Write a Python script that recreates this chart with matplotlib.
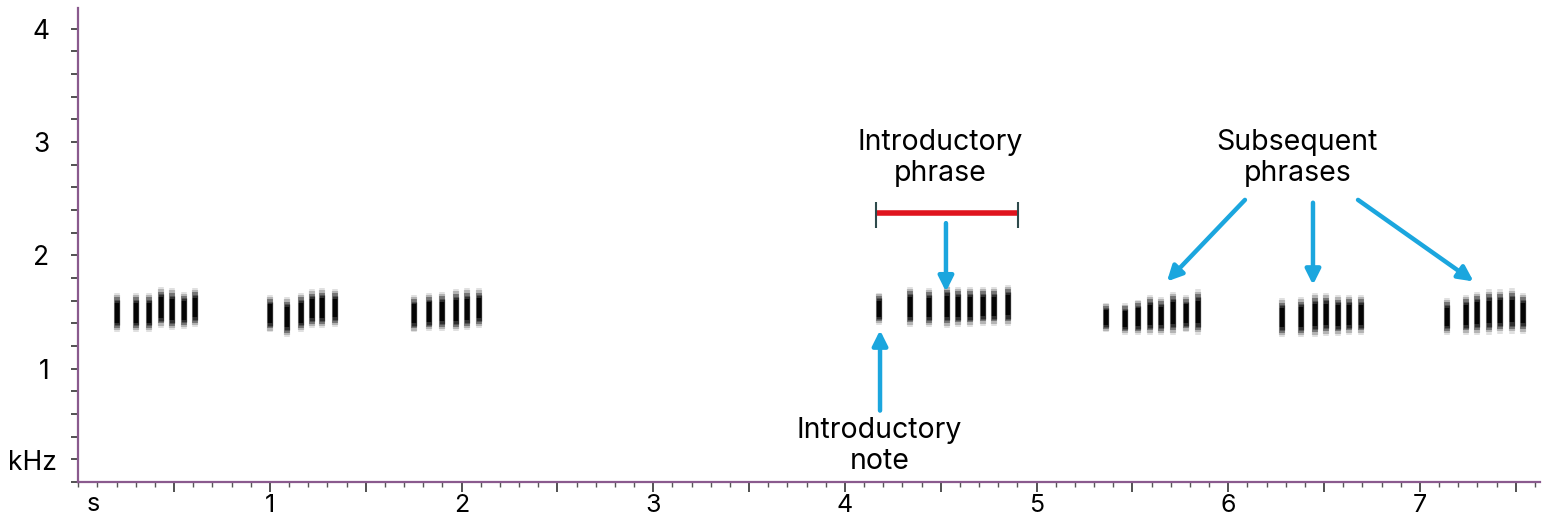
import matplotlib
matplotlib.use("Agg")
import matplotlib.pyplot as plt
from matplotlib.ticker import MultipleLocator

# syllable onsets (s) and frequency extent (kHz), one list per phrase
phrase_times = [
    [0.20, 0.30, 0.37, 0.43, 0.49, 0.55, 0.61],
    [1.00, 1.09, 1.16, 1.22, 1.27, 1.34],
    [1.75, 1.83, 1.90, 1.97, 2.03, 2.09],
    [4.18],
    [4.34, 4.44, 4.53, 4.59, 4.65, 4.72, 4.78, 4.85],
    [5.36, 5.46, 5.53, 5.59, 5.65, 5.71, 5.78, 5.84],
    [6.28, 6.38, 6.45, 6.51, 6.57, 6.63, 6.69],
    [7.14, 7.24, 7.30, 7.36, 7.42, 7.48, 7.54],
]
phrase_tops = [
    [1.67, 1.67, 1.67, 1.72, 1.71, 1.68, 1.71],
    [1.65, 1.63, 1.67, 1.70, 1.71, 1.70],
    [1.65, 1.67, 1.68, 1.70, 1.71, 1.71],
    [1.67],
    [1.72, 1.71, 1.74, 1.72, 1.72, 1.72, 1.72, 1.74],
    [1.58, 1.58, 1.61, 1.65, 1.63, 1.68, 1.65, 1.70],
    [1.62, 1.63, 1.67, 1.67, 1.65, 1.65, 1.65],
    [1.62, 1.65, 1.68, 1.70, 1.70, 1.71, 1.67],
]
phrase_bottoms = [
    [1.32, 1.32, 1.32, 1.36, 1.34, 1.35, 1.37],
    [1.32, 1.28, 1.32, 1.36, 1.36, 1.37],
    [1.32, 1.33, 1.33, 1.33, 1.34, 1.36],
    [1.39],
    [1.37, 1.37, 1.36, 1.37, 1.37, 1.38, 1.38, 1.38],
    [1.32, 1.30, 1.30, 1.30, 1.30, 1.30, 1.32, 1.30],
    [1.28, 1.28, 1.28, 1.29, 1.29, 1.30, 1.30],
    [1.30, 1.30, 1.30, 1.30, 1.31, 1.31, 1.31],
]

x_ticks = [0.5, 1, 1.5, 2, 2.5, 3, 3.5, 4, 4.5, 5, 5.5, 6, 6.5, 7, 7.5]
x_labels = ["", "1", "", "2", "", "3", "", "4", "", "5", "", "6", "", "7", ""]
y_ticks = [1, 2, 3, 4]
y_labels = ["1", "2", "3", "4"]

plt.rcParams['font.family'] = ['Inter', 'DejaVu Sans']

fig = plt.figure(figsize=(15.45, 5.21), dpi=100)
ax = fig.add_axes([0.0507, 0.0749, 0.946, 0.91])

# syllables drawn as soft, tapered vertical strokes (layered for a blurred look)
layers = [(1.0, 4.0, 0.12), (0.9, 4.5, 0.2), (0.78, 4.2, 0.35), (0.65, 3.8, 0.6), (0.5, 3.2, 0.9)]
for times, tops, bots in zip(phrase_times, phrase_tops, phrase_bottoms):
    for t, hi, lo in zip(times, tops, bots):
        mid = (hi + lo) / 2
        half = (hi - lo) / 2
        for frac, w, a in layers:
            ax.vlines(t, mid - frac * half, mid + frac * half, color="black", lw=w, alpha=a)

blue = "#1ba6de"
arrow = dict(arrowstyle="-|>,head_length=0.9,head_width=0.45", color=blue, lw=3.2, shrinkA=0, shrinkB=0)

# introductory phrase bar
ax.plot([4.162, 4.903], [2.375, 2.375], color="#e0141e", lw=4, solid_capstyle="butt", zorder=3)
ax.vlines([4.162, 4.903], 2.245, 2.47, color="#2e4a4c", lw=1.5, zorder=4)
ax.annotate("", xy=(4.527, 1.68), xytext=(4.527, 2.285), arrowprops=arrow)
ax.text(4.496, 2.86, "Introductory\nphrase", ha="center", va="center", fontsize=20.5, linespacing=1.2)

# introductory note
ax.annotate("", xy=(4.183, 1.34), xytext=(4.183, 0.63), arrowprops=arrow)
ax.text(4.18, 0.32, "Introductory\nnote", ha="center", va="center", fontsize=20.5, linespacing=1.2)

# subsequent phrases
ax.text(6.36, 2.86, "Subsequent\nphrases", ha="center", va="center", fontsize=20.5, linespacing=1.2)
ax.annotate("", xy=(5.68, 1.77), xytext=(6.087, 2.49), arrowprops=arrow)
ax.annotate("", xy=(6.442, 1.74), xytext=(6.442, 2.465), arrowprops=arrow)
ax.annotate("", xy=(7.28, 1.77), xytext=(6.677, 2.49), arrowprops=arrow)

ax.set_xlim(0, 7.626)
ax.set_ylim(0, 4.185)

for side in ["top", "right"]:
    ax.spines[side].set_visible(False)
for side in ["left", "bottom"]:
    ax.spines[side].set_color("#8a5a8e")
    ax.spines[side].set_linewidth(1.6)

ax.set_xticks(x_ticks)
ax.set_xticklabels(x_labels)
ax.xaxis.set_minor_locator(MultipleLocator(0.1))
ax.set_yticks(y_ticks)
ax.set_yticklabels(y_labels)
ax.yaxis.set_minor_locator(MultipleLocator(0.2))

ax.tick_params(axis="x", which="major", length=7, width=1.2, color="#333333", labelsize=18, pad=2)
ax.tick_params(axis="x", which="minor", length=3.5, width=1, color="#555555")
ax.tick_params(axis="y", which="both", length=5, width=1.2, color="#333333", labelsize=19, pad=16)

ax.text(0.08, -0.1, "s", ha="center", va="top", fontsize=18)
ax.text(-0.11, 0.17, "kHz", ha="right", va="center", fontsize=19)

fig.savefig("out.png", dpi=100)
